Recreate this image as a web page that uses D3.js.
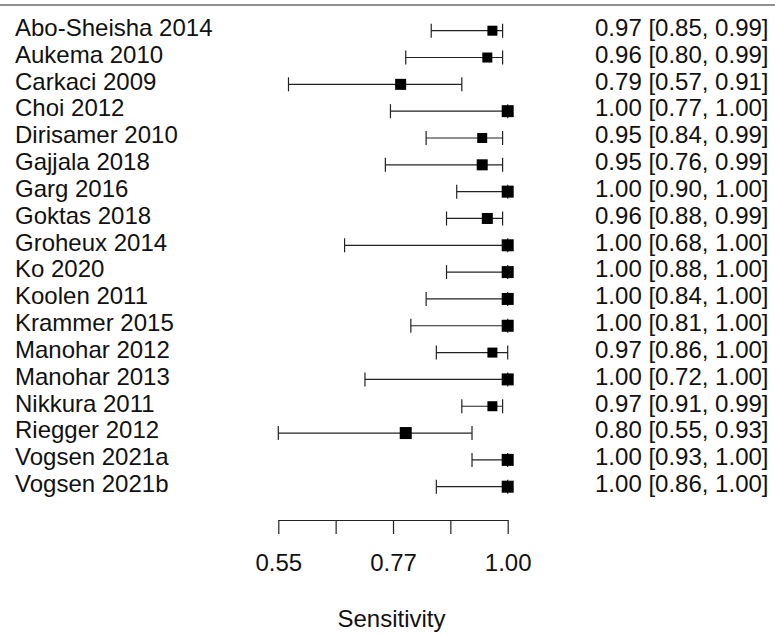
<!DOCTYPE html>
<html>
<head>
<meta charset="utf-8">
<script src="https://cdn.jsdelivr.net/npm/d3@7"></script>
<style>
  body { margin: 0; background: #fff; }
  text { font-family: "Liberation Sans", Arial, sans-serif; }
</style>
</head>
<body>
<script>
// Study data
const studies = ["Abo-Sheisha 2014", "Aukema 2010", "Carkaci 2009", "Choi 2012", "Dirisamer 2010",
    "Gajjala 2018", "Garg 2016", "Goktas 2018", "Groheux 2014", "Ko 2020", "Koolen 2011",
    "Krammer 2015", "Manohar 2012", "Manohar 2013", "Nikkura 2011", "Riegger 2012",
    "Vogsen 2021a", "Vogsen 2021b"];
const estimate = [0.97, 0.96, 0.79, 1.00, 0.95, 0.95, 1.00, 0.96, 1.00, 1.00, 1.00, 1.00, 0.97, 1.00, 0.97, 0.80, 1.00, 1.00];
const lower    = [0.85, 0.80, 0.57, 0.77, 0.84, 0.76, 0.90, 0.88, 0.68, 0.88, 0.84, 0.81, 0.86, 0.72, 0.91, 0.55, 0.93, 0.86];
const upper    = [0.99, 0.99, 0.91, 1.00, 0.99, 0.99, 1.00, 0.99, 1.00, 1.00, 1.00, 1.00, 1.00, 1.00, 0.99, 0.93, 1.00, 1.00];
// relative study weights (box size)
const weight   = [1, 1, 2, 3, 1, 2, 3, 2, 3, 3, 3, 3, 1, 3, 1, 3, 3, 3];

const tickValues = [0.55, 0.6625, 0.775, 0.8875, 1.00];
const tickLabels = ["0.55", "", "0.77", "", "1.00"];

const width = 775;
const height = 636;

const data = studies.map((s, i) => ({
    study: s, est: estimate[i], lo: lower[i], hi: upper[i], w: weight[i]
}));

const svg = d3.select("body")
    .append("svg")
    .attr("width", width)
    .attr("height", height);

// Scales
const x = d3.scaleLinear().domain([0.55, 1.00]).range([278.3, 507.7]);
const y = d3.scaleLinear().domain([0, studies.length - 1]).range([30.7, 486.7]);
const boxSize = d3.scaleLinear().domain(d3.extent(weight)).range([10, 12]);

// Top rule
svg.append("line")
    .attr("x1", 0).attr("x2", width)
    .attr("y1", 5).attr("y2", 5)
    .attr("stroke", "#222")
    .attr("stroke-width", 1.2);

const rows = svg.selectAll("g.row")
    .data(data)
    .enter()
    .append("g")
    .attr("class", "row");

// Study labels
rows.append("text")
    .attr("x", 15)
    .attr("y", (d, i) => y(i) + 5.3)
    .attr("fill", "#111")
    .style("font-size", "24px")
    .text(d => d.study);

// Estimate [CI] text
rows.append("text")
    .attr("x", 768.5)
    .attr("y", (d, i) => y(i) + 5.3)
    .attr("text-anchor", "end")
    .attr("fill", "#111")
    .style("font-size", "24px")
    .text(d => d.est.toFixed(2) + " [" + d.lo.toFixed(2) + ", " + d.hi.toFixed(2) + "]");

// CI whiskers
rows.append("line")
    .attr("x1", d => x(d.lo)).attr("x2", d => x(d.hi))
    .attr("y1", (d, i) => y(i)).attr("y2", (d, i) => y(i))
    .attr("stroke", "#222")
    .attr("stroke-width", 1.2);

rows.selectAll("line.end")
    .data((d, i) => [{ v: d.lo, i: i }, { v: d.hi, i: i }])
    .enter()
    .append("line")
    .attr("class", "end")
    .attr("x1", d => x(d.v)).attr("x2", d => x(d.v))
    .attr("y1", d => y(d.i) - 7).attr("y2", d => y(d.i) + 7)
    .attr("stroke", "#222")
    .attr("stroke-width", 1.2);

// Boxes
rows.append("rect")
    .attr("x", d => x(d.est) - boxSize(d.w) / 2)
    .attr("y", (d, i) => y(i) - boxSize(d.w) / 2)
    .attr("width", d => boxSize(d.w))
    .attr("height", d => boxSize(d.w))
    .attr("fill", "#000");

// X axis
const xAxis = d3.axisBottom(x)
    .tickValues(tickValues)
    .tickSize(14)
    .tickSizeOuter(0)
    .tickPadding(19.5)
    .tickFormat((d, i) => tickLabels[i]);

const gAxis = svg.append("g")
    .attr("transform", "translate(0,520)")
    .call(xAxis);

gAxis.select(".domain").attr("stroke", "#222").attr("stroke-width", 1.2);
gAxis.selectAll(".tick line").attr("stroke", "#222").attr("stroke-width", 1.2);
gAxis.selectAll(".tick text")
    .attr("fill", "#111")
    .style("font-size", "24px")
    .style("font-family", "'Liberation Sans', Arial, sans-serif");

svg.append("text")
    .attr("x", (x.range()[0] + x.range()[1]) / 2 - 1.5)
    .attr("y", 626.5)
    .attr("text-anchor", "middle")
    .attr("fill", "#111")
    .style("font-size", "24px")
    .text("Sensitivity");
</script>
</body>
</html>
